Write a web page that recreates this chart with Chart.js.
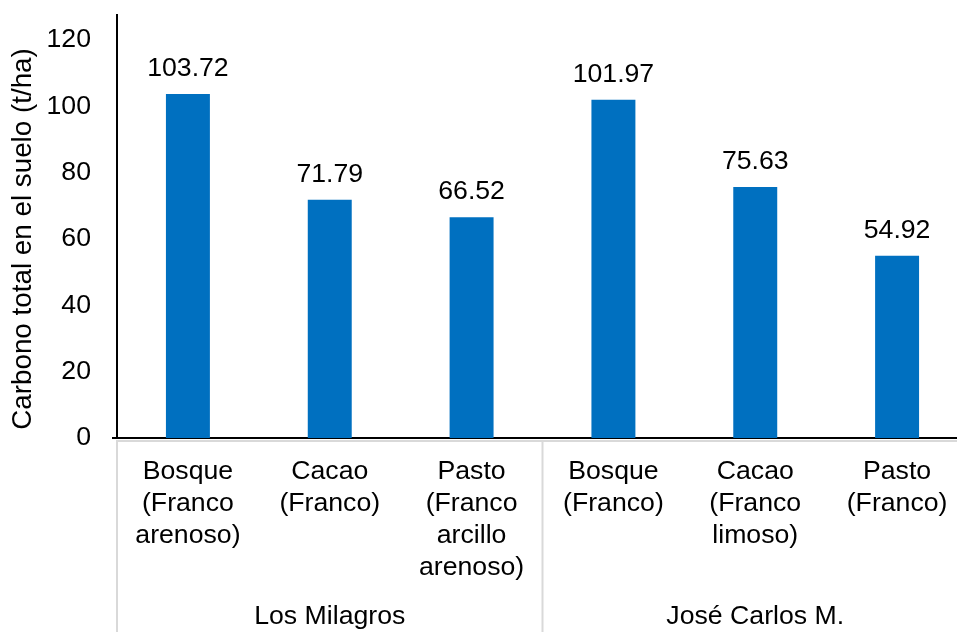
<!DOCTYPE html>
<html>
<head>
<meta charset="utf-8">
<script src="https://cdn.jsdelivr.net/npm/chart.js@4/dist/chart.umd.min.js"></script>
<style>
  html, body { margin: 0; padding: 0; background: #fff; overflow: hidden; }
  #wrap { width: 957px; height: 632px; overflow: hidden; position: relative; }
  canvas { display: block; }
</style>
</head>
<body>
<div id="wrap"><canvas id="c" width="980" height="632"></canvas></div>
<script>
const categories = [
  ["Bosque", "(Franco", "arenoso)"],
  ["Cacao", "(Franco)"],
  ["Pasto", "(Franco", "arcillo", "arenoso)"],
  ["Bosque", "(Franco)"],
  ["Cacao", "(Franco", "limoso)"],
  ["Pasto", "(Franco)"]
];
const groups = ["Los Milagros", "José Carlos M."];
const groupSizes = [3, 3];
const carbono = [103.72, 71.79, 66.52, 101.97, 75.63, 54.92];
const yTicks = [0, 20, 40, 60, 80, 100, 120];
const yTitle = "Carbono total en el suelo (t/ha)";

const FONT = "'Liberation Sans', Arial, sans-serif";
const FS = 26.67;

const overlay = {
  id: 'overlay',
  afterDraw(chart) {
    const ctx = chart.ctx;
    const x = chart.scales.x, y = chart.scales.y;
    const ca = chart.chartArea;
    ctx.save();
    // data labels
    ctx.fillStyle = '#000';
    ctx.font = FS + 'px ' + FONT;
    ctx.textAlign = 'center';
    ctx.textBaseline = 'alphabetic';
    const meta = chart.getDatasetMeta(0);
    meta.data.forEach((bar, i) => {
      ctx.fillText(carbono[i].toFixed(2), bar.x, bar.y - 18);
    });
    // gray category box lines
    const half = (x.getPixelForValue(1) - x.getPixelForValue(0)) / 2;
    ctx.strokeStyle = '#d9d9d9';
    ctx.lineWidth = 2;
    ctx.beginPath();
    ctx.moveTo(ca.left - 1, ca.bottom + 3);
    ctx.lineTo(ca.right, ca.bottom + 3);
    ctx.stroke();
    let idx = 0;
    const bounds = [x.getPixelForValue(0) - half];
    groupSizes.forEach(n => { idx += n; bounds.push(x.getPixelForValue(idx - 1) + half); });
    bounds.forEach(b => {
      ctx.beginPath();
      ctx.moveTo(b, ca.bottom + 3);
      ctx.lineTo(b, chart.height);
      ctx.stroke();
    });
    // group labels
    ctx.fillStyle = '#000';
    ctx.textBaseline = 'middle';
    groups.forEach((g, i) => {
      ctx.fillText(g, (bounds[i] + bounds[i + 1]) / 2, 617);
    });
    // small tick at 0 on y axis
    ctx.strokeStyle = '#000';
    ctx.beginPath();
    ctx.moveTo(ca.left - 5, y.getPixelForValue(0));
    ctx.lineTo(ca.left, y.getPixelForValue(0));
    ctx.stroke();
    // y title
    ctx.font = '27.8px ' + FONT;
    ctx.translate(23, 239);
    ctx.rotate(-Math.PI / 2);
    ctx.textAlign = 'center';
    ctx.textBaseline = 'middle';
    ctx.fillText(yTitle, 0, 0);
    ctx.restore();
  }
};

new Chart(document.getElementById('c'), {
  type: 'bar',
  data: {
    labels: categories,
    datasets: [{
      data: carbono,
      backgroundColor: '#0070C0',
      borderWidth: 0,
      categoryPercentage: 1.0,
      barPercentage: 0.31
    }]
  },
  options: {
    responsive: false,
    animation: false,
    devicePixelRatio: 1,
    layout: { padding: { top: 15, right: 12, left: 0, bottom: 0 } },
    plugins: { legend: { display: false }, tooltip: { enabled: false } },
    scales: {
      x: {
        grid: { display: false, drawTicks: false },
        border: { display: true, color: '#000', width: 2 },
        ticks: {
          color: '#000',
          font: { family: FONT, size: FS, lineHeight: 1.2 },
          padding: 18,
          maxRotation: 0,
          autoSkip: false
        },
        afterFit(s) { s.height = 194; s.paddingLeft = 0; s.paddingRight = 0; }
      },
      y: {
        min: 0,
        max: 127.5,
        grid: { display: false, drawTicks: false },
        border: { display: true, color: '#000', width: 2 },
        ticks: {
          color: '#000',
          font: { family: FONT, size: FS },
          padding: 26,
          stepSize: 20
        },
        afterBuildTicks(s) { s.ticks = yTicks.map(v => ({ value: v })); },
        afterFit(s) { s.width = 117; s.paddingTop = 0; s.paddingBottom = 0; }
      }
    }
  },
  plugins: [overlay]
});
</script>
</body>
</html>
